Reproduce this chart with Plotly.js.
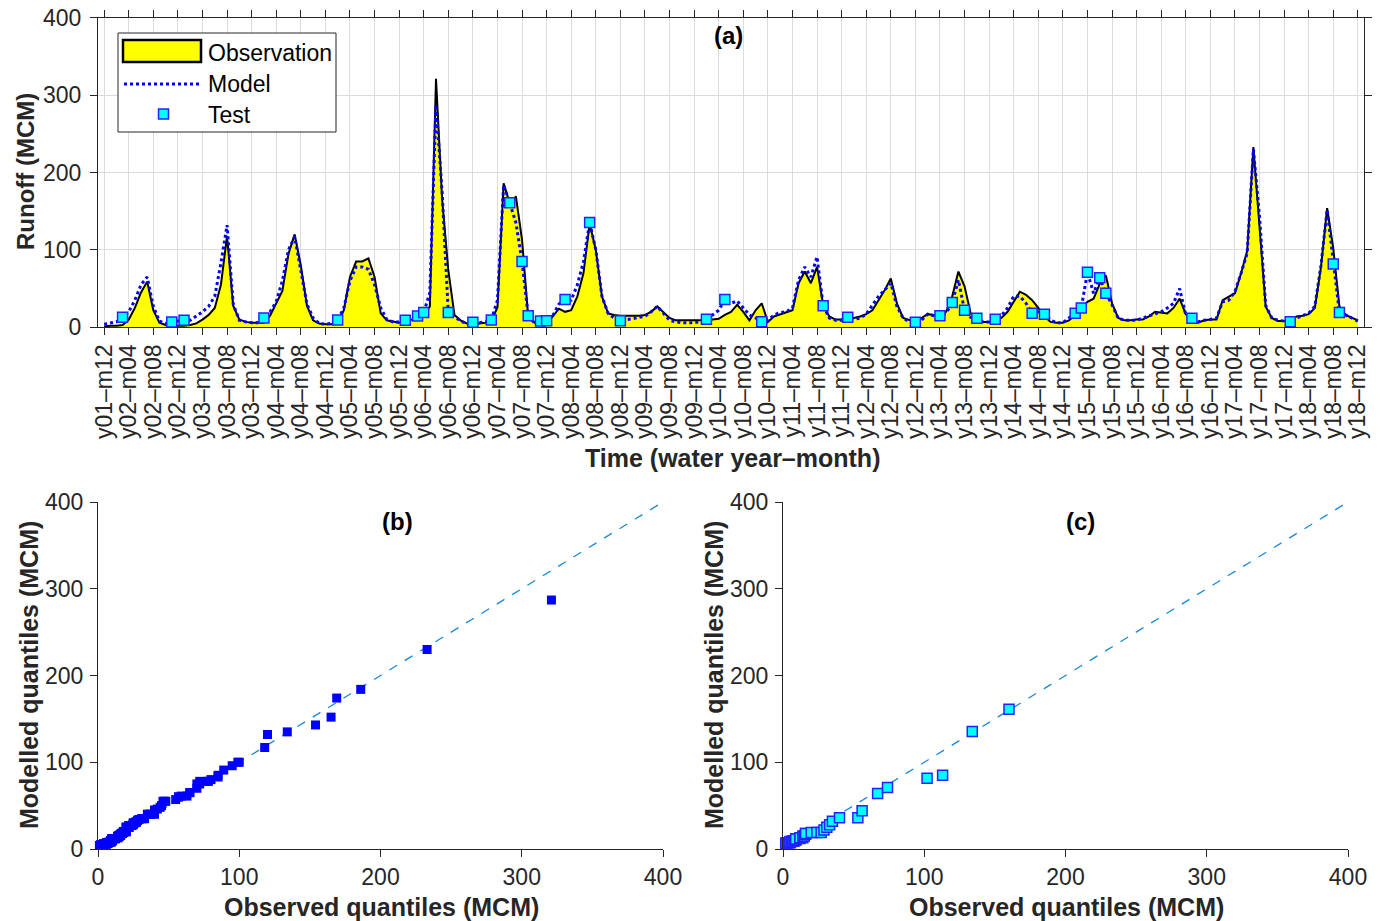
<!DOCTYPE html>
<html>
<head>
<meta charset="utf-8">
<script src="https://cdn.plot.ly/plotly-3.0.1.min.js"></script>
<style>html,body{margin:0;padding:0;background:#fff;}#chart{width:1385px;height:921px;}</style>
</head>
<body>
<div id="chart"></div>
<script>
// ---- data ----
// months 1..205 : y01-m12 ... y18-m12
const observed = [1,2,2,3,10,25,45,59,22,6,3,2,2,2,3,5,10,16,25,55,
118,28,10,7,6,6,6,15,32,47,95,120,80,28,9,5,4,4,5,22,
65,85,85,89,65,18,9,7,6,7,10,12,15,27,321,165,74,16,9,5,
4,5,6,8,26,186,160,169,113,14,6,5,5,14,24,20,22,40,70,134,
100,40,18,16,15,15,15,15,16,20,27,20,12,9,9,9,9,9,9,10,
11,16,20,29,20,9,22,31,7,14,17,19,22,57,72,57,78,29,14,10,
10,12,12,14,17,22,35,48,63,31,12,9,7,12,17,16,16,20,40,72,
53,18,9,7,7,9,12,20,33,46,42,35,25,14,7,6,6,9,16,24,
33,37,56,67,31,12,9,9,10,10,14,20,19,18,25,37,17,9,6,9,
10,10,35,40,44,70,99,233,134,27,12,8,8,8,14,15,17,25,78,154,
102,27,16,12,9];
const modelled = [4,6,7,13,20,35,55,65,27,8,5,7,8,9,9,14,20,27,40,83,
132,30,9,7,6,6,12,20,33,60,100,117,75,30,12,5,4,5,9.5,25,
60,78,78,75,55,25,10,7,7,9,12,14.6,19,45,287,174,19,14,8,5,
6.5,6,7,9.5,35,184,161,135,85,15,6,8.2,8.6,15,30,36,35,55,85,135.5,
100,40,18,12,8.6,10,11,13,14,20,27,18,9,7,6,6,6,7,10.3,16,
22,36,31,34,25,16,12,7.3,9,16,19,20,25,61,78,65,91,28,12,9,
9,13,10,12,17,29,40,48,57,27,12,7,6.5,9,17,15,15,18,32,61,
22,13,11.6,7,7,10.3,15,25,40,40,31,18,20,17,9,6,6,12,18,25,
71,44,64,44,29,12,9,9,9,12,15,18,20,25,31,50,16,11.6,7,9,
10,12,33,35,46,70,96,230,143,28,12,9,8,7.3,12,15,18,27,80,152,
81.7,19,16,12,8];
// months (1-based) that belong to the test period
const testMonths = [4,12,14,27,39,50,52,53,57,61,64,67,69,70,72,73,76,80,85,99,
102,108,118,122,133,137,139,141,143,146,152,154,159,160,161,163,164,178,194,201,202];
const tickMonths = [1,5,9,13,17,21,25,29,33,37,41,45,49,53,57,61,65,69,73,77,81,85,89,93,97,101,
105,109,113,117,121,125,129,133,137,141,145,149,153,157,161,165,169,173,177,181,185,189,193,197,201,205];
const tickLabels = ["y01–m12","y02–m04","y02–m08","y02–m12","y03–m04","y03–m08","y03–m12",
"y04–m04","y04–m08","y04–m12","y05–m04","y05–m08","y05–m12","y06–m04","y06–m08","y06–m12",
"y07–m04","y07–m08","y07–m12","y08–m04","y08–m08","y08–m12","y09–m04","y09–m08","y09–m12",
"y10–m04","y10–m08","y10–m12","y11–m04","y11–m08","y11–m12","y12–m04","y12–m08","y12–m12",
"y13–m04","y13–m08","y13–m12","y14–m04","y14–m08","y14–m12","y15–m04","y15–m08","y15–m12",
"y16–m04","y16–m08","y16–m12","y17–m04","y17–m08","y17–m12","y18–m04","y18–m08","y18–m12"];
const quantileTicks = [0, 100, 200, 300, 400];
const oneToOne = [0, 400];

// ---- derived ----
const months = observed.map((_, k) => k + 1);
const testSet = new Set(testMonths);
const testModel = testMonths.map(m => modelled[m - 1]);
const trainMonths = months.filter(m => !testSet.has(m));
const trainObsQ = trainMonths.map(m => observed[m - 1]).sort((a, b) => a - b);
const trainModQ = trainMonths.map(m => modelled[m - 1]).sort((a, b) => a - b);
const testObsQ = testMonths.map(m => observed[m - 1]).sort((a, b) => a - b);
const testModQ = testModel.slice().sort((a, b) => a - b);

// ---- layout helpers ----
const W = 1385, H = 921;
const px = x => x / W, py = y => 1 - y / H;
const FONT = "Liberation Sans, Arial, Helvetica, sans-serif";
const AX = '#262626';
const TICK = 23, LEG = 23, TTL = 25, PANEL = 24;

const traces = [
  {x: months, y: observed, type: 'scatter', mode: 'lines', fill: 'tozeroy', fillcolor: '#FFFF00',
   line: {color: '#000000', width: 2}, name: 'Observation', xaxis: 'x', yaxis: 'y', hoverinfo: 'skip'},
  {x: months, y: modelled, type: 'scatter', mode: 'lines',
   line: {color: '#0000FF', width: 3, dash: 'dot'}, name: 'Model', xaxis: 'x', yaxis: 'y'},
  {x: testMonths, y: testModel, type: 'scatter', mode: 'markers', name: 'Test',
   marker: {symbol: 'square', size: 10, color: '#00FFFF', line: {color: '#2222FF', width: 1.5}}, xaxis: 'x', yaxis: 'y'},
  {x: oneToOne, y: oneToOne, type: 'scatter', mode: 'lines', line: {color: '#1a8ad4', width: 1.3, dash: 'dash'},
   xaxis: 'x2', yaxis: 'y2'},
  {x: trainObsQ, y: trainModQ, type: 'scatter', mode: 'markers', cliponaxis: false,
   marker: {symbol: 'square', size: 9, color: '#0000FF'}, xaxis: 'x2', yaxis: 'y2'},
  {x: oneToOne, y: oneToOne, type: 'scatter', mode: 'lines', line: {color: '#1a8ad4', width: 1.3, dash: 'dash'},
   xaxis: 'x3', yaxis: 'y3'},
  {x: testObsQ, y: testModQ, type: 'scatter', mode: 'markers', cliponaxis: false,
   marker: {symbol: 'square', size: 10, color: '#00FFFF', line: {color: '#2222FF', width: 1.5}}, xaxis: 'x3', yaxis: 'y3'}
];

const common = {ticks: 'outside', ticklen: 7, tickcolor: AX, tickwidth: 1, showline: true, linecolor: AX, linewidth: 1,
  zeroline: false, tickfont: {family: FONT, size: TICK, color: AX}, fixedrange: true};

function ann(text, x, y, size, opts) {
  return Object.assign({text: text, x: px(x), y: py(y), xref: 'paper', yref: 'paper', xanchor: 'center',
    yanchor: 'middle', showarrow: false, font: {family: FONT, size: size, color: AX}}, opts || {});
}

const layout = {
  width: W, height: H, margin: {l: 0, r: 0, t: 0, b: 0}, paper_bgcolor: '#fff', plot_bgcolor: '#fff',
  showlegend: false, font: {family: FONT, color: '#000'},
  xaxis: Object.assign({}, common, {domain: [px(98), px(1364)], anchor: 'y', range: [0, 206],
    tickmode: 'array', tickvals: tickMonths, ticktext: tickLabels, tickangle: -90, mirror: 'ticks',
    showgrid: true, gridcolor: '#dcdcdc', gridwidth: 1}),
  yaxis: Object.assign({}, common, {domain: [py(327.3), py(17.7)], anchor: 'x', range: [0, 400],
    tickvals: quantileTicks, mirror: 'ticks', showgrid: true, gridcolor: '#dcdcdc', ticklabelstandoff: 4}),
  xaxis2: Object.assign({}, common, {domain: [px(98), px(663)], anchor: 'y2', range: [0, 400],
    tickvals: quantileTicks, showgrid: false}),
  yaxis2: Object.assign({}, common, {domain: [py(849), py(502)], anchor: 'x2', range: [0, 400],
    tickvals: quantileTicks, showgrid: false, ticklabelstandoff: 2}),
  xaxis3: Object.assign({}, common, {domain: [px(783), px(1348)], anchor: 'y3', range: [0, 400],
    tickvals: quantileTicks, showgrid: false}),
  yaxis3: Object.assign({}, common, {domain: [py(849), py(502)], anchor: 'x3', range: [0, 400],
    tickvals: quantileTicks, showgrid: false, ticklabelstandoff: 2}),
  shapes: [
    {type: 'rect', xref: 'paper', yref: 'paper', x0: px(118), x1: px(336), y0: py(132), y1: py(33),
     line: {color: '#262626', width: 1}, fillcolor: '#ffffff', layer: 'above'},
    {type: 'rect', xref: 'paper', yref: 'paper', x0: px(123), x1: px(201), y0: py(62), y1: py(40),
     line: {color: '#000000', width: 2.5}, fillcolor: '#FFFF00', layer: 'above'},
    {type: 'line', xref: 'paper', yref: 'paper', x0: px(124), x1: px(202), y0: py(84), y1: py(84),
     line: {color: '#0000FF', width: 3, dash: 'dot'}, layer: 'above'},
    {type: 'rect', xref: 'paper', yref: 'paper', x0: px(158.5), x1: px(168.5), y0: py(119), y1: py(109),
     line: {color: '#2222FF', width: 1.5}, fillcolor: '#00FFFF', layer: 'above'}
  ],
  annotations: [
    ann('Observation', 206, 53, LEG, {xanchor: 'left', font: {family: FONT, size: LEG, color: '#000'}}),
    ann('Model', 206, 84, LEG, {xanchor: 'left', font: {family: FONT, size: LEG, color: '#000'}}),
    ann('Test', 206, 115, LEG, {xanchor: 'left', font: {family: FONT, size: LEG, color: '#000'}}),
    ann('<b>(a)</b>', 728, 35, PANEL, {font: {family: FONT, size: PANEL, color: '#000'}}),
    ann('<b>(b)</b>', 397, 521, PANEL, {font: {family: FONT, size: PANEL, color: '#000'}}),
    ann('<b>(c)</b>', 1080, 521, PANEL, {font: {family: FONT, size: PANEL, color: '#000'}}),
    ann('<b>Runoff (MCM)</b>', 26, 172, 24, {textangle: -90}),
    ann('<b>Time (water year–month)</b>', 732, 458, TTL),
    ann('<b>Modelled quantiles (MCM)</b>', 29, 675, TTL, {textangle: -90}),
    ann('<b>Observed quantiles (MCM)</b>', 381, 907, TTL),
    ann('<b>Modelled quantiles (MCM)</b>', 714, 675, TTL, {textangle: -90}),
    ann('<b>Observed quantiles (MCM)</b>', 1066, 907, TTL)
  ]
};

Plotly.newPlot('chart', traces, layout, {staticPlot: true, displayModeBar: false});
</script>
</body>
</html>
